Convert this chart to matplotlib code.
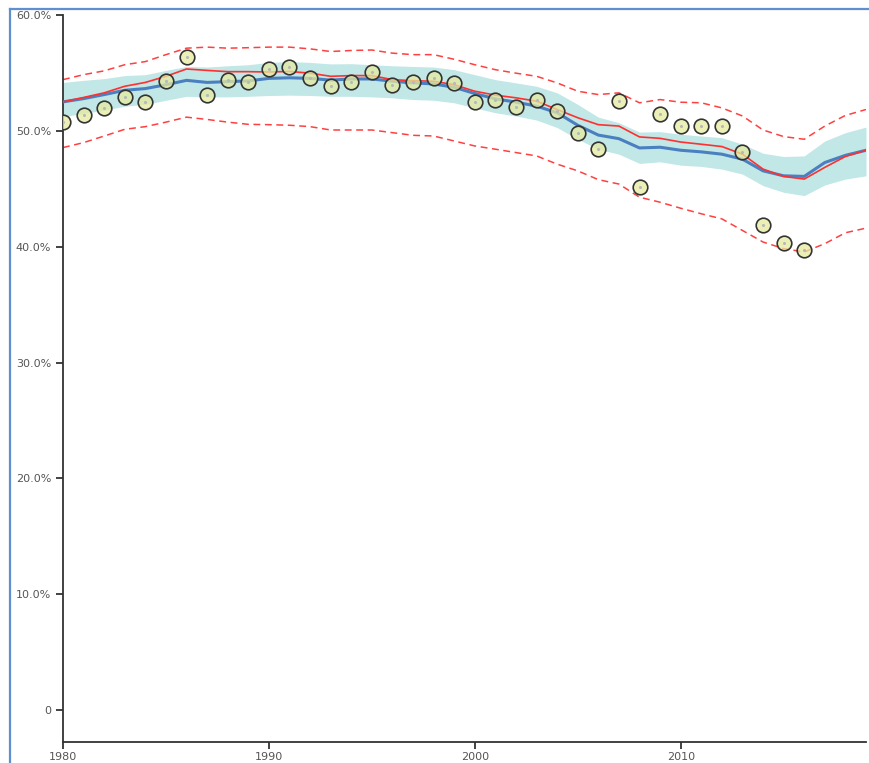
import numpy as np
import matplotlib
matplotlib.use('Agg')
import matplotlib.pyplot as plt
from matplotlib.lines import Line2D
from matplotlib.ticker import FuncFormatter

# observed yearly values (%)
obs_years = list(range(1980, 2017))
obs = [50.75, 51.35, 52.0, 52.98, 52.55, 54.3, 56.44, 53.1, 54.4, 54.24,
       55.33, 55.53, 54.55, 53.93, 54.24, 55.13, 54.01, 54.24, 54.61, 54.18,
       52.55, 52.66, 52.06, 52.72, 51.72, 49.8, 48.43, 52.58, 45.19, 51.5,
       50.43, 50.43, 50.43, 48.17, 41.84, 40.29, 39.69]

# model output, one value per year
model_years = list(range(1980, 2020))
trend = [52.52, 52.8, 53.15, 53.52, 53.67, 54.0, 54.38, 54.2, 54.27, 54.33,
         54.55, 54.6, 54.55, 54.4, 54.5, 54.5, 54.3, 54.16, 54.07, 53.78,
         53.24, 52.78, 52.5, 52.15, 51.58, 50.5, 49.65, 49.34, 48.54, 48.6,
         48.34, 48.2, 48.0, 47.57, 46.56, 46.13, 46.08, 47.28, 47.9, 48.34]
fitted = [52.52, 52.9, 53.3, 53.87, 54.2, 54.73, 55.36, 55.24, 55.13, 55.13,
          55.1, 55.15, 55.0, 54.73, 54.79, 54.79, 54.44, 54.35, 54.3, 54.0,
          53.44, 53.1, 52.87, 52.58, 51.86, 51.15, 50.55, 50.43, 49.49, 49.37,
          49.05, 48.86, 48.66, 48.0, 46.71, 46.08, 45.85, 46.86, 47.8, 48.34]
band_hi = [54.2, 54.38, 54.53, 54.79, 54.87, 55.24, 55.58, 55.53, 55.64, 55.73,
           55.93, 56.0, 55.93, 55.8, 55.82, 55.73, 55.64, 55.58, 55.53, 55.3,
           54.87, 54.44, 54.16, 53.87, 53.3, 52.3, 51.2, 50.72, 49.91, 49.95,
           49.72, 49.57, 49.43, 48.86, 48.08, 47.8, 47.85, 49.14, 49.86, 50.34]
band_lo = [51.24, 51.52, 51.8, 52.15, 52.3, 52.66, 53.0, 52.95, 52.95, 53.0,
           53.07, 53.1, 53.07, 53.0, 53.0, 52.95, 52.87, 52.72, 52.66, 52.44,
           52.0, 51.58, 51.3, 50.95, 50.3, 49.3, 48.43, 48.0, 47.2, 47.34,
           47.05, 46.94, 46.71, 46.28, 45.28, 44.71, 44.42, 45.34, 45.85, 46.13]
pred_hi = [54.44, 54.87, 55.2, 55.73, 56.0, 56.6, 57.16, 57.25, 57.16, 57.2,
           57.25, 57.25, 57.1, 56.87, 56.96, 57.0, 56.73, 56.6, 56.6, 56.2,
           55.73, 55.3, 55.0, 54.73, 54.16, 53.44, 53.15, 53.3, 52.44, 52.72,
           52.49, 52.44, 52.0, 51.3, 50.09, 49.52, 49.29, 50.43, 51.35, 51.86]
pred_lo = [48.57, 49.0, 49.57, 50.15, 50.38, 50.77, 51.2, 51.0, 50.77, 50.58,
           50.55, 50.5, 50.38, 50.09, 50.09, 50.09, 49.86, 49.63, 49.57, 49.14,
           48.71, 48.43, 48.14, 47.85, 47.14, 46.56, 45.8, 45.42, 44.28, 43.85,
           43.33, 42.85, 42.41, 41.41, 40.41, 39.84, 39.55, 40.27, 41.21, 41.61]

y_ticks = [0, 10, 20, 30, 40, 50, 60]
x_ticks = [1980, 1990, 2000, 2010]

fig = plt.figure(figsize=(8.69, 7.63), dpi=100)
ax = fig.add_axes([63 / 869, 21 / 763, 803 / 869, 726.7 / 763])

ax.fill_between(model_years, band_lo, band_hi, color='#c2e7e7', lw=0, zorder=1)
ax.plot(model_years, pred_hi, color='#ff4040', lw=1.1, ls=(0, (4.5, 3)), zorder=2)
ax.plot(model_years, pred_lo, color='#ff4040', lw=1.1, ls=(0, (4.5, 3)), zorder=2)
ax.plot(model_years, trend, color='#4a80c0', lw=2.2, zorder=3)
ax.plot(model_years, fitted, color='#ff3030', lw=1.2, zorder=4)

ax.plot(obs_years, obs, ls='none', marker='o', ms=10.5,
        markerfacecolor=(0.90, 0.92, 0.62, 0.75), markeredgecolor='#333333',
        markeredgewidth=1.2, zorder=5)
ax.plot(obs_years, obs, ls='none', marker='o', ms=1.2,
        color='#b8b8b8', zorder=6)

ax.set_xlim(1980, 2019)
ax.set_ylim(-2.79, 60)
ax.set_xticks(x_ticks)
ax.set_yticks(y_ticks)
ax.yaxis.set_major_formatter(FuncFormatter(lambda v, p: '0' if v == 0 else '%.1f%%' % v))

for side in ['top', 'right']:
    ax.spines[side].set_visible(False)
for side in ['left', 'bottom']:
    ax.spines[side].set_color('#333333')
    ax.spines[side].set_linewidth(1.3)
ax.tick_params(axis='both', colors='#333333', labelcolor='#555555',
               labelsize=8, length=5, width=1.3)
ax.tick_params(axis='x', pad=2)

# frame drawn around the panel
fig.add_artist(Line2D([9.5 / 869, 9.5 / 869], [0, 1 - 9 / 763],
                      transform=fig.transFigure, color='#5f8fd0', lw=1.6))
fig.add_artist(Line2D([9.5 / 869, 1], [1 - 9 / 763, 1 - 9 / 763],
                      transform=fig.transFigure, color='#5f8fd0', lw=1.6))

fig.savefig('out.png', dpi=100)
